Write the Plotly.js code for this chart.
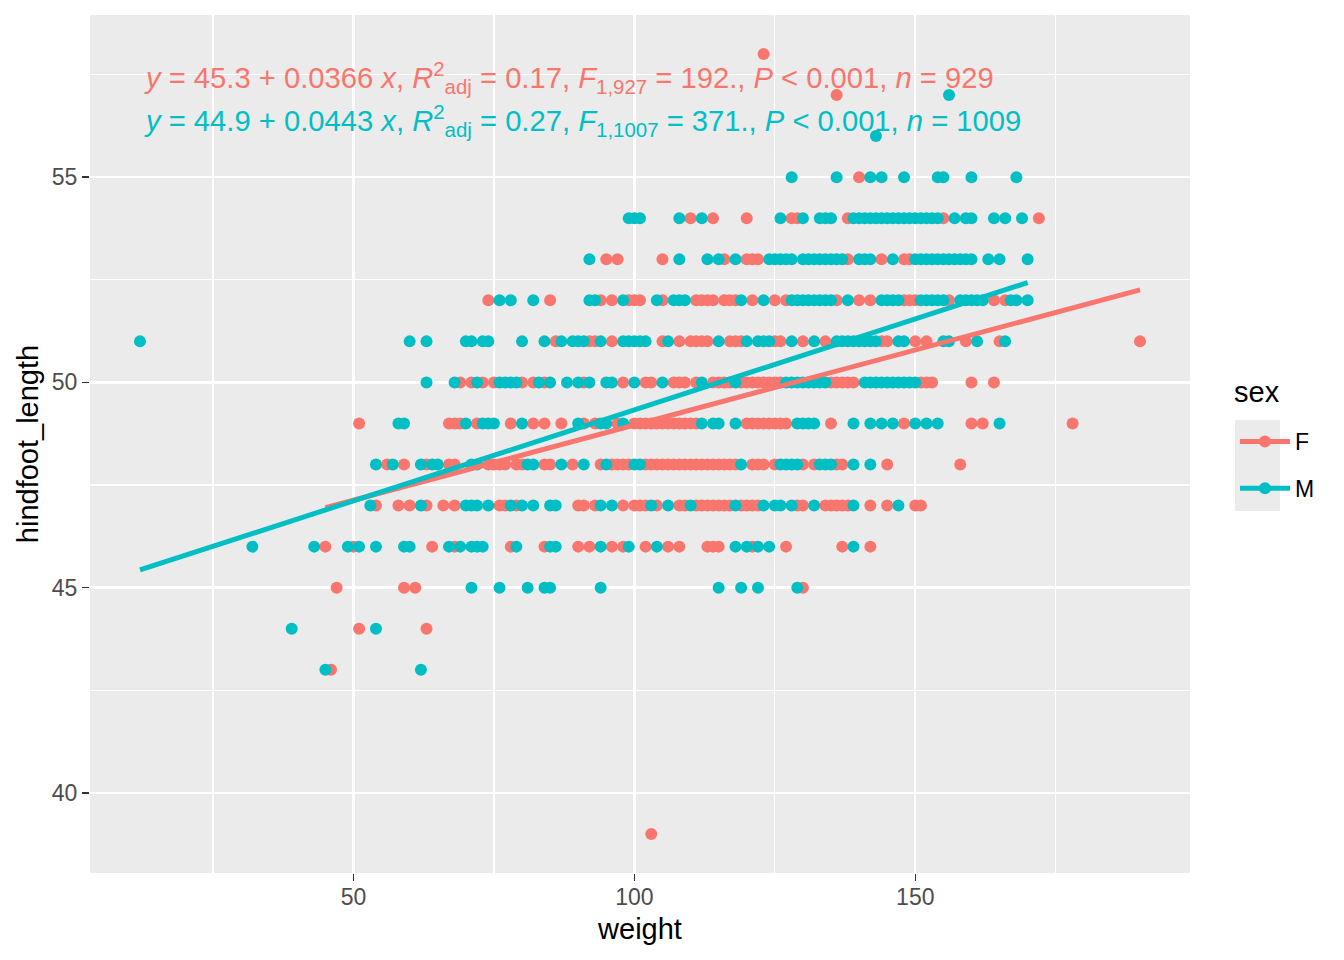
<!DOCTYPE html>
<html>
<head>
<meta charset="utf-8">
<script src="https://cdn.plot.ly/plotly-3.0.1.min.js"></script>
<style>html,body{margin:0;padding:0;background:#fff}#chart{width:1344px;height:960px}</style>
</head>
<body>
<div id="chart"></div>
<script>
// hindfoot_length rows -> weights observed, by sex
const hindRows = [58,57,56,55,54,53,52,51,50,49,48,47,46,45,44,43,39];

const F58 = [123];
const F57 = [136];
const F56 = [];
const F55 = [140];
const F54 = [110,114,120,128,129,138,155,172];
const F53 = [95,97,105,116,120,121,122,138,144,148,149];
const F52 = [74,85,94,96,99,100,101,105,111,112,113,114,116,117,118,121,125,127,136,140,142,148,149,150,156,164,166];
const F51 = [86,92,93,96,105,108,110,111,112,113,117,118,119,125,126,130,134,144,145,150,152,159,165,190];
const F50 = [69,71,73,75,80,82,84,91,98,102,103,107,108,109,111,114,115,116,117,119,120,121,122,123,124,125,126,135,136,137,138,139,151,152,153,160,164];
const F49 = [51,67,68,69,72,78,82,84,87,91,93,97,100,101,102,103,104,105,106,107,108,109,110,111,120,121,122,123,124,125,126,127,135,148,160,162,178];
const F48 = [56,59,63,67,68,74,75,76,77,79,80,84,85,89,94,96,97,98,99,102,103,104,105,106,107,108,109,110,111,112,113,114,115,116,117,118,121,122,123,125,130,132,136,137,145,158];
const F47 = [54,58,60,63,66,68,76,77,79,90,91,93,98,100,101,102,104,108,109,111,112,113,114,115,116,117,119,120,121,122,129,130,134,135,136,137,138,142,145,150,151];
const F46 = [45,50,64,68,78,84,90,92,96,98,102,106,108,113,114,115,121,127,137,142];
const F45 = [47,59,61,130];
const F44 = [51,63];
const F43 = [46];
const F39 = [103];

const M58 = [];
const M57 = [156];
const M56 = [143];
const M55 = [128,136,142,144,148,154,155,160,168];
const M54 = [99,100,101,108,112,126,130,133,134,135,139,140,141,142,143,144,145,146,147,148,149,150,151,152,153,154,157,159,160,164,166,169];
const M53 = [92,108,113,115,118,124,125,126,127,128,130,131,132,133,134,135,136,137,140,141,142,146,150,151,152,153,154,155,156,157,158,159,160,163,165,170];
const M52 = [76,78,82,92,93,98,104,107,108,109,119,123,128,129,130,131,132,133,134,135,138,144,145,146,147,151,152,153,154,155,158,159,160,161,162,167,168,170];
const M51 = [12,60,63,70,71,73,74,80,84,87,89,90,91,94,98,99,100,101,102,106,115,120,122,123,124,128,132,136,137,138,139,140,141,142,143,147,148,155,156,161,166];
const M50 = [63,68,72,76,77,78,79,83,85,88,90,92,95,96,100,105,112,118,127,128,129,130,131,132,133,134,141,142,143,144,145,146,147,148,149,150];
const M49 = [58,59,70,73,74,75,80,90,94,95,98,112,114,115,118,129,130,131,132,139,142,144,146,150,152,154,165];
const M48 = [54,57,62,64,65,71,72,81,82,87,91,95,100,101,119,126,127,128,129,133,134,135,139,142];
const M47 = [53,62,70,71,72,74,78,80,82,85,86,94,96,103,106,110,118,123,125,126,128,132,139,147];
const M46 = [32,43,49,51,54,59,60,67,69,71,72,73,79,85,86,94,99,104,118,120,122,124,139];
const M45 = [71,76,81,84,85,94,115,119,122,129];
const M44 = [39,54];
const M43 = [45,62];
const M39 = [];

const femaleRows = [F58,F57,F56,F55,F54,F53,F52,F51,F50,F49,F48,F47,F46,F45,F44,F43,F39];
const maleRows   = [M58,M57,M56,M55,M54,M53,M52,M51,M50,M49,M48,M47,M46,M45,M44,M43,M39];

const sexLabels = ["F", "M"];
const sexColors = ["#F8766D", "#00BFC4"];
const fitIntercept = [45.3, 44.9];
const fitSlope = [0.0366, 0.0443];
const eqText = [
  "<i>y</i> = 45.3 + 0.0366 <i>x</i>, <i>R</i><sup>2</sup><sub>adj</sub> = 0.17, <i>F</i><sub>1,927</sub> = 192., <i>P</i> &lt; 0.001, <i>n</i> = 929",
  "<i>y</i> = 44.9 + 0.0443 <i>x</i>, <i>R</i><sup>2</sup><sub>adj</sub> = 0.27, <i>F</i><sub>1,1007</sub> = 371., <i>P</i> &lt; 0.001, <i>n</i> = 1009"
];
const legendTitle = "sex";
const xTicks = [50, 100, 150];
const yTicks = [40, 45, 50, 55];

function flatten(rows) {
  const xs = [], ys = [];
  rows.forEach((r, i) => r.forEach(w => { xs.push(w); ys.push(hindRows[i]); }));
  return {xs, ys};
}

const groups = [flatten(femaleRows), flatten(maleRows)];
const FONT = "Liberation Sans, Arial, sans-serif";
const traces = [];

groups.forEach((g, k) => {
  traces.push({
    x: g.xs, y: g.ys, type: "scatter", mode: "markers",
    marker: {color: sexColors[k], size: 12, line: {width: 0}},
    showlegend: false, hoverinfo: "x+y"
  });
});
groups.forEach((g, k) => {
  const lo = Math.min(...g.xs), hi = Math.max(...g.xs);
  traces.push({
    x: [lo, hi], y: [fitIntercept[k] + fitSlope[k]*lo, fitIntercept[k] + fitSlope[k]*hi],
    type: "scatter", mode: "lines",
    line: {color: sexColors[k], width: 5}, showlegend: false
  });
});
sexLabels.forEach((s, k) => {
  traces.push({
    x: [null], y: [null], type: "scatter", mode: "lines+markers", name: s,
    line: {color: sexColors[k], width: 5},
    marker: {color: sexColors[k], size: 12},
    legendgroup: s, showlegend: true
  });
});

const annotations = eqText.map((t, k) => ({
  xref: "paper", yref: "paper", x: 0.0473, y: k === 0 ? 0.9266 : 0.8765,
  xanchor: "left", yanchor: "middle", showarrow: false, text: t,
  font: {family: FONT, size: 29.2, color: sexColors[k]}
}));
annotations.push({
  xref: "paper", yref: "paper", x: 1.0409, y: (873 - 392) / 858,
  xanchor: "left", yanchor: "middle", showarrow: false, text: legendTitle,
  xshift: -3,
  font: {family: FONT, size: 29, color: "#000000"}
});

const layout = {
  width: 1344, height: 960,
  margin: {l: 90, r: 154, t: 15, b: 87},
  paper_bgcolor: "#FFFFFF", plot_bgcolor: "#EBEBEB",
  font: {family: FONT, color: "#000000"},
  xaxis: {
    range: [3.1, 198.9], tickvals: xTicks, ticktext: xTicks.map(String),
    showgrid: true, gridcolor: "#FFFFFF", gridwidth: 2.4,
    minor: {tickvals: [25, 75, 125, 175], showgrid: true, gridcolor: "#FFFFFF", gridwidth: 1.2, ticklen: 0},
    zeroline: false, showline: false,
    ticks: "outside", ticklen: 7, tickwidth: 1.4, tickcolor: "#333333",
    ticklabelstandoff: -4,
    tickfont: {family: FONT, size: 23, color: "#4D4D4D"},
    title: {text: "weight", font: {family: FONT, size: 29, color: "#000000"}, standoff: 10}
  },
  yaxis: {
    range: [38.05, 58.95], tickvals: yTicks, ticktext: yTicks.map(String),
    showgrid: true, gridcolor: "#FFFFFF", gridwidth: 2.4,
    minor: {tickvals: [42.5, 47.5, 52.5, 57.5], showgrid: true, gridcolor: "#FFFFFF", gridwidth: 1.2, ticklen: 0},
    zeroline: false, showline: false,
    ticks: "outside", ticklen: 7, tickwidth: 1.4, tickcolor: "#333333",
    tickfont: {family: FONT, size: 23, color: "#4D4D4D"},
    title: {text: "hindfoot_length", font: {family: FONT, size: 29, color: "#000000"}, standoff: 4}
  },
  legend: {
    x: 1.0409, xanchor: "left", y: 0.528, yanchor: "top",
    bgcolor: "rgba(0,0,0,0)", borderwidth: 0,
    font: {family: FONT, size: 23, color: "#000000"},
    tracegroupgap: 14, itemwidth: 50
  },
  shapes: [{
    type: "rect", xref: "paper", yref: "paper",
    x0: 1.0409, x1: 1.0818, y0: 0.4219, y1: 0.528,
    fillcolor: "#EBEBEB", line: {width: 0}, layer: "below"
  }],
  annotations: annotations
};

Plotly.newPlot("chart", traces, layout, {displayModeBar: false, staticPlot: true});
</script>
</body>
</html>
